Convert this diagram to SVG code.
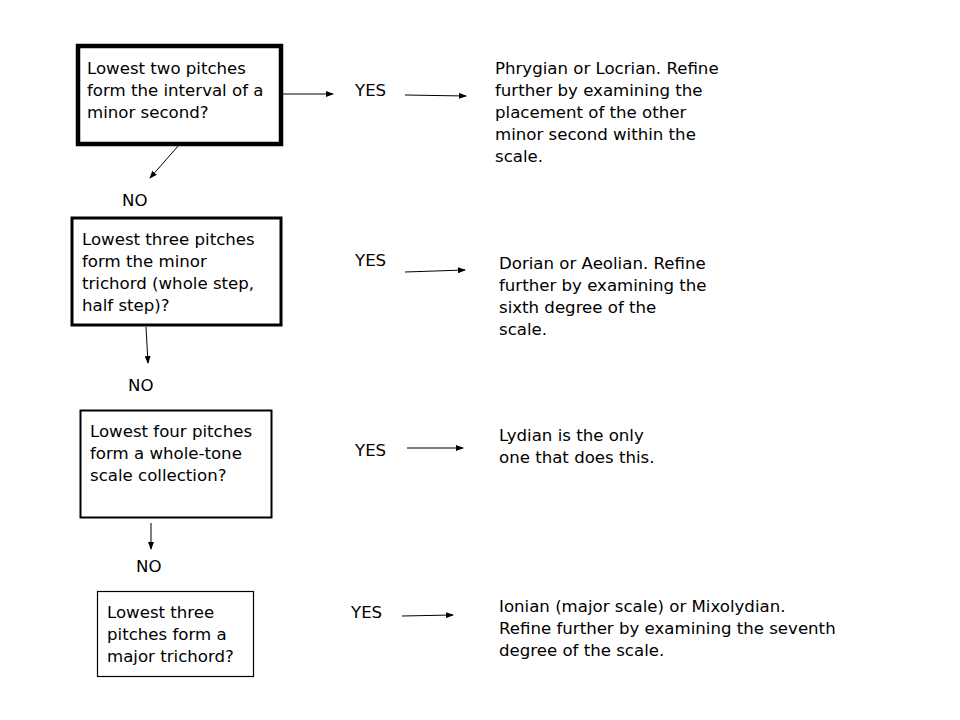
<svg xmlns="http://www.w3.org/2000/svg" width="960" height="720" viewBox="0 0 960 720">
<style>
text{font-family:"DejaVu Sans",Verdana,sans-serif;font-size:16.6px;fill:#000}
.box{fill:#fff;stroke:#000}
.c{stroke:#000;stroke-width:1;fill:none;marker-end:url(#ah)}
</style>
<defs>
<marker id="ah" markerWidth="8" markerHeight="6" refX="7" refY="3" orient="auto" markerUnits="userSpaceOnUse">
<path d="M0,0 L8,3 L0,6 Z" fill="#000"/>
</marker>
</defs>
<rect width="960" height="720" fill="#fff"/>
<g id="q1">
<rect class="box" x="78" y="46" width="203" height="98" stroke-width="4.5"/>
<text x="87" y="74">Lowest two pitches</text>
<text x="87" y="96">form the interval of a</text>
<text x="87" y="118">minor second?</text>
</g>
<g id="yes1"><text x="355" y="96">YES</text></g>
<g id="r1">
<text x="495" y="74">Phrygian or Locrian. Refine</text>
<text x="495" y="96">further by examining the</text>
<text x="495" y="118">placement of the other</text>
<text x="495" y="140">minor second within the</text>
<text x="495" y="162">scale.</text>
</g>
<g id="no1"><text x="122" y="206">NO</text></g>
<g id="q2">
<rect class="box" x="72" y="218" width="209" height="107" stroke-width="3"/>
<text x="82" y="245">Lowest three pitches</text>
<text x="82" y="267">form the minor</text>
<text x="82" y="289">trichord (whole step,</text>
<text x="82" y="311">half step)?</text>
</g>
<g id="yes2"><text x="355" y="266">YES</text></g>
<g id="r2">
<text x="499" y="269">Dorian or Aeolian. Refine</text>
<text x="499" y="291">further by examining the</text>
<text x="499" y="313">sixth degree of the</text>
<text x="499" y="335">scale.</text>
</g>
<g id="no2"><text x="128" y="391">NO</text></g>
<g id="q3">
<rect class="box" x="80.5" y="410.5" width="191" height="107" stroke-width="2"/>
<text x="90" y="437">Lowest four pitches</text>
<text x="90" y="459">form a whole-tone</text>
<text x="90" y="481">scale collection?</text>
</g>
<g id="yes3"><text x="355" y="456">YES</text></g>
<g id="r3">
<text x="499" y="441">Lydian is the only</text>
<text x="499" y="463">one that does this.</text>
</g>
<g id="no3"><text x="136" y="572">NO</text></g>
<g id="q4">
<rect class="box" x="97.5" y="591.5" width="156" height="85" stroke-width="1.2"/>
<text x="107" y="618">Lowest three</text>
<text x="107" y="640">pitches form a</text>
<text x="107" y="662">major trichord?</text>
</g>
<g id="yes4"><text x="351" y="618">YES</text></g>
<g id="r4">
<text x="499" y="612">Ionian (major scale) or Mixolydian.</text>
<text x="499" y="634">Refine further by examining the seventh</text>
<text x="499" y="656">degree of the scale.</text>
</g>
<g id="connectors">
<line class="c" x1="281" y1="94" x2="333" y2="94"/>
<line class="c" x1="405" y1="95" x2="466" y2="96"/>
<line class="c" x1="179" y1="145" x2="150" y2="178"/>
<line class="c" x1="405" y1="272" x2="465" y2="270"/>
<line class="c" x1="146" y1="327" x2="148" y2="363"/>
<line class="c" x1="407" y1="448" x2="463" y2="448"/>
<line class="c" x1="151" y1="523" x2="151" y2="549"/>
<line class="c" x1="402" y1="616" x2="453" y2="615"/>
</g>
</svg>
